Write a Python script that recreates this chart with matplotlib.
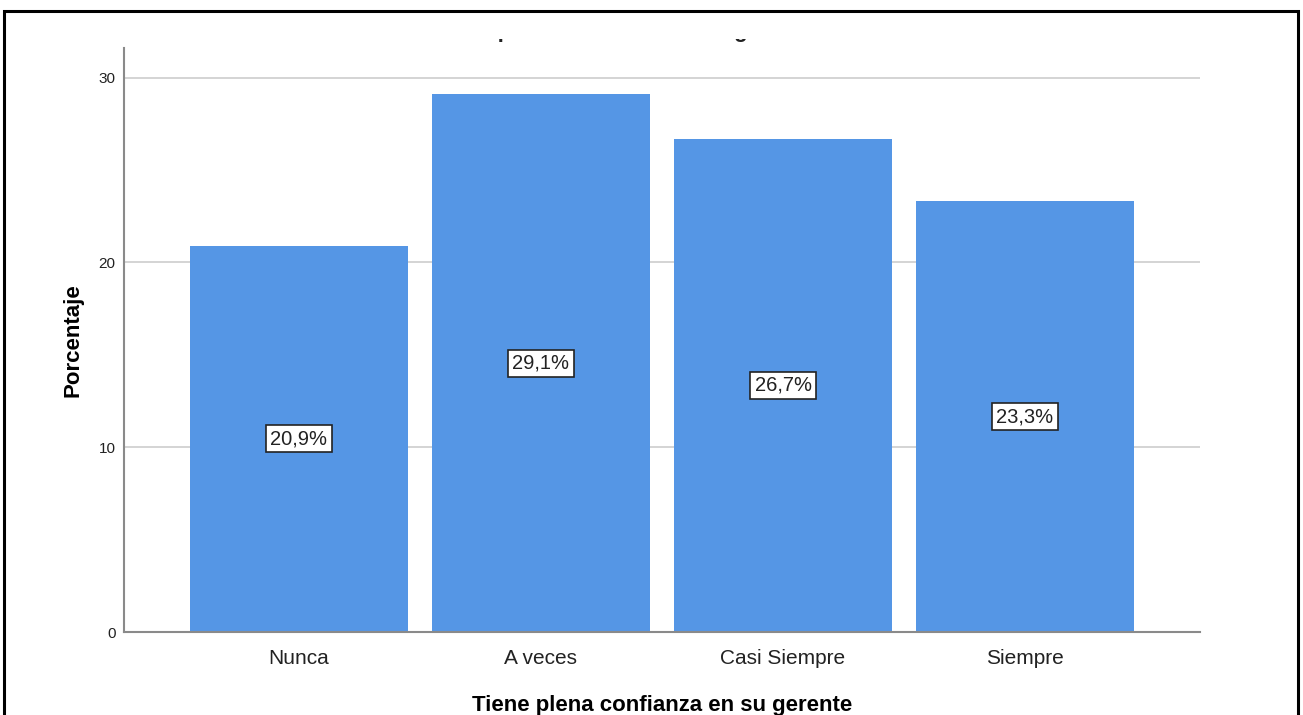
import matplotlib
matplotlib.use("Agg")
import matplotlib.pyplot as plt
from matplotlib.patches import Rectangle
from matplotlib.transforms import Bbox, TransformedBbox

categories = ["Nunca", "A veces", "Casi Siempre", "Siempre"]
percentages = [20.9, 29.1, 26.7, 23.3]
y_ticks = [0, 10, 20, 30]
title_text = "Tiene plena confianza en su gerente"
x_label = "Tiene plena confianza en su gerente"
y_label = "Porcentaje"

plt.rcParams["font.family"] = ["Liberation Sans", "DejaVu Sans"]

W, H = 1303, 715
fig = plt.figure(figsize=(W / 100, H / 100), dpi=100)
fig.patch.set_facecolor("white")

ax = fig.add_axes([124 / W, 1 - 632 / H, (1200 - 124) / W, (632 - 48) / H])
positions = list(range(len(categories)))
ax.bar(positions, percentages, width=0.9, color="#5596E5", zorder=2)

ax.set_xlim(-0.723, 3.723)
ax.set_ylim(0, 31.6)
ax.set_yticks(y_ticks)
ax.set_yticklabels([str(t) for t in y_ticks], fontsize=11, color="#222222")
ax.set_xticks(positions)
ax.set_xticklabels(categories, fontsize=15, color="#222222")
ax.tick_params(axis="both", length=0)
ax.tick_params(axis="x", pad=12)
ax.tick_params(axis="y", pad=6)

ax.yaxis.grid(True, color="#d4d4d4", linewidth=1.4, zorder=0)
ax.set_axisbelow(True)
for side in ("top", "right"):
    ax.spines[side].set_visible(False)
for side in ("left", "bottom"):
    ax.spines[side].set_color("#8a8a8a")
    ax.spines[side].set_linewidth(1.5)

for x, v in zip(positions, percentages):
    ax.text(x, v / 2, f"{v:.1f}%".replace(".", ","), ha="center", va="center",
            fontsize=14.5, color="#222222", zorder=3,
            bbox=dict(boxstyle="square,pad=0.2", facecolor="white",
                      edgecolor="#222222", linewidth=1.2))

ax.set_xlabel(x_label, fontsize=16, fontweight="bold", labelpad=20)
ax.set_ylabel(y_label, fontsize=16, fontweight="bold", labelpad=11)

# Title sits mostly above the frame; only its lowest strokes show below it
t = fig.text(624 / W, 1 - 32 / H, title_text, ha="center", va="center",
             fontsize=16, fontweight="bold", color="#222222")
t.set_clip_on(True)
t.set_clip_box(TransformedBbox(Bbox([[0, 0], [1, 1 - 38.5 / H]]),
                               fig.transFigure))

# Outer frame
frame = Rectangle((3.5 / W, -0.05), (1298 - 3.5) / W, 1 - 10.5 / H + 0.05,
                  transform=fig.transFigure, facecolor="none",
                  edgecolor="black", linewidth=2.2, clip_on=False)
fig.add_artist(frame)

fig.savefig("out.png", dpi=100, facecolor="white")
